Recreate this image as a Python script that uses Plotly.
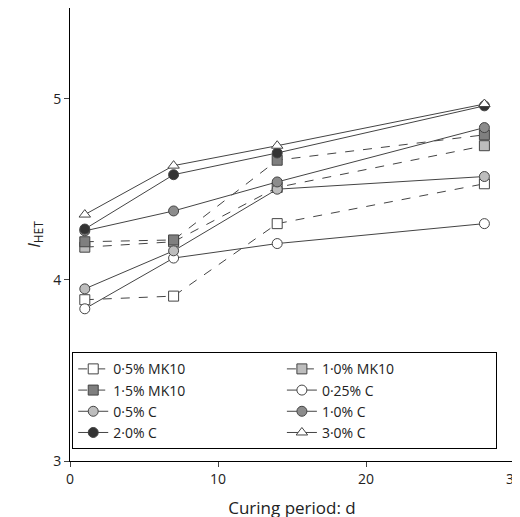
import plotly.graph_objects as go

days = [1, 7, 14, 28]

names = ['0·5% MK10', '1·0% MK10', '1·5% MK10', '0·25% C',
         '0·5% C', '1·0% C', '2·0% C', '3·0% C']
values = [
    [3.89, 3.91, 4.31, 4.53],
    [4.18, 4.21, 4.51, 4.74],
    [4.21, 4.22, 4.66, 4.80],
    [3.84, 4.12, 4.20, 4.31],
    [3.95, 4.16, 4.50, 4.57],
    [4.27, 4.38, 4.54, 4.84],
    [4.28, 4.58, 4.70, 4.96],
    [4.36, 4.63, 4.74, 4.97],
]
symbols = ['square', 'square', 'square', 'circle', 'circle', 'circle', 'circle', 'triangle-up']
fills = ['white', '#bdbdbd', '#7f7f7f', 'white', '#bdbdbd', '#8c8c8c', '#333333', 'white']
dashes = ['dash', 'dash', 'dash', 'solid', 'solid', 'solid', 'solid', 'solid']

fig = go.Figure()
for n, v, s, f, d in zip(names, values, symbols, fills, dashes):
    fig.add_trace(go.Scatter(
        x=days, y=v, name=n, mode='lines+markers',
        line=dict(color='#444444', width=1, dash=d),
        marker=dict(symbol=s, size=10, color=f, line=dict(color='#444444', width=1)),
    ))

fig.update_layout(
    width=520, height=517,
    margin=dict(l=62, r=14, t=0, b=64),
    plot_bgcolor='white', paper_bgcolor='white',
    font=dict(family='Open Sans', size=14, color='#222222'),
    showlegend=True,
    legend=dict(orientation='h', x=0.005, y=0.24, xanchor='left', yanchor='top',
                entrywidthmode='fraction', entrywidth=0.47,
                bordercolor='black', borderwidth=1,
                bgcolor='white', font=dict(size=14), tracegroupgap=0),
)
fig.update_xaxes(range=[0, 30], tickvals=[0, 10, 20, 30], ticks='outside',
                 showline=True, linecolor='black', showgrid=False, zeroline=False,
                 title=dict(text='Curing period: d'))
fig.update_yaxes(range=[3, 5.5], tickvals=[3, 4, 5], ticks='outside',
                 showline=True, linecolor='black', showgrid=False, zeroline=False,
                 title=dict(text='<i>I</i><sub>HET</sub>', standoff=8))

fig.write_html("out.html")
